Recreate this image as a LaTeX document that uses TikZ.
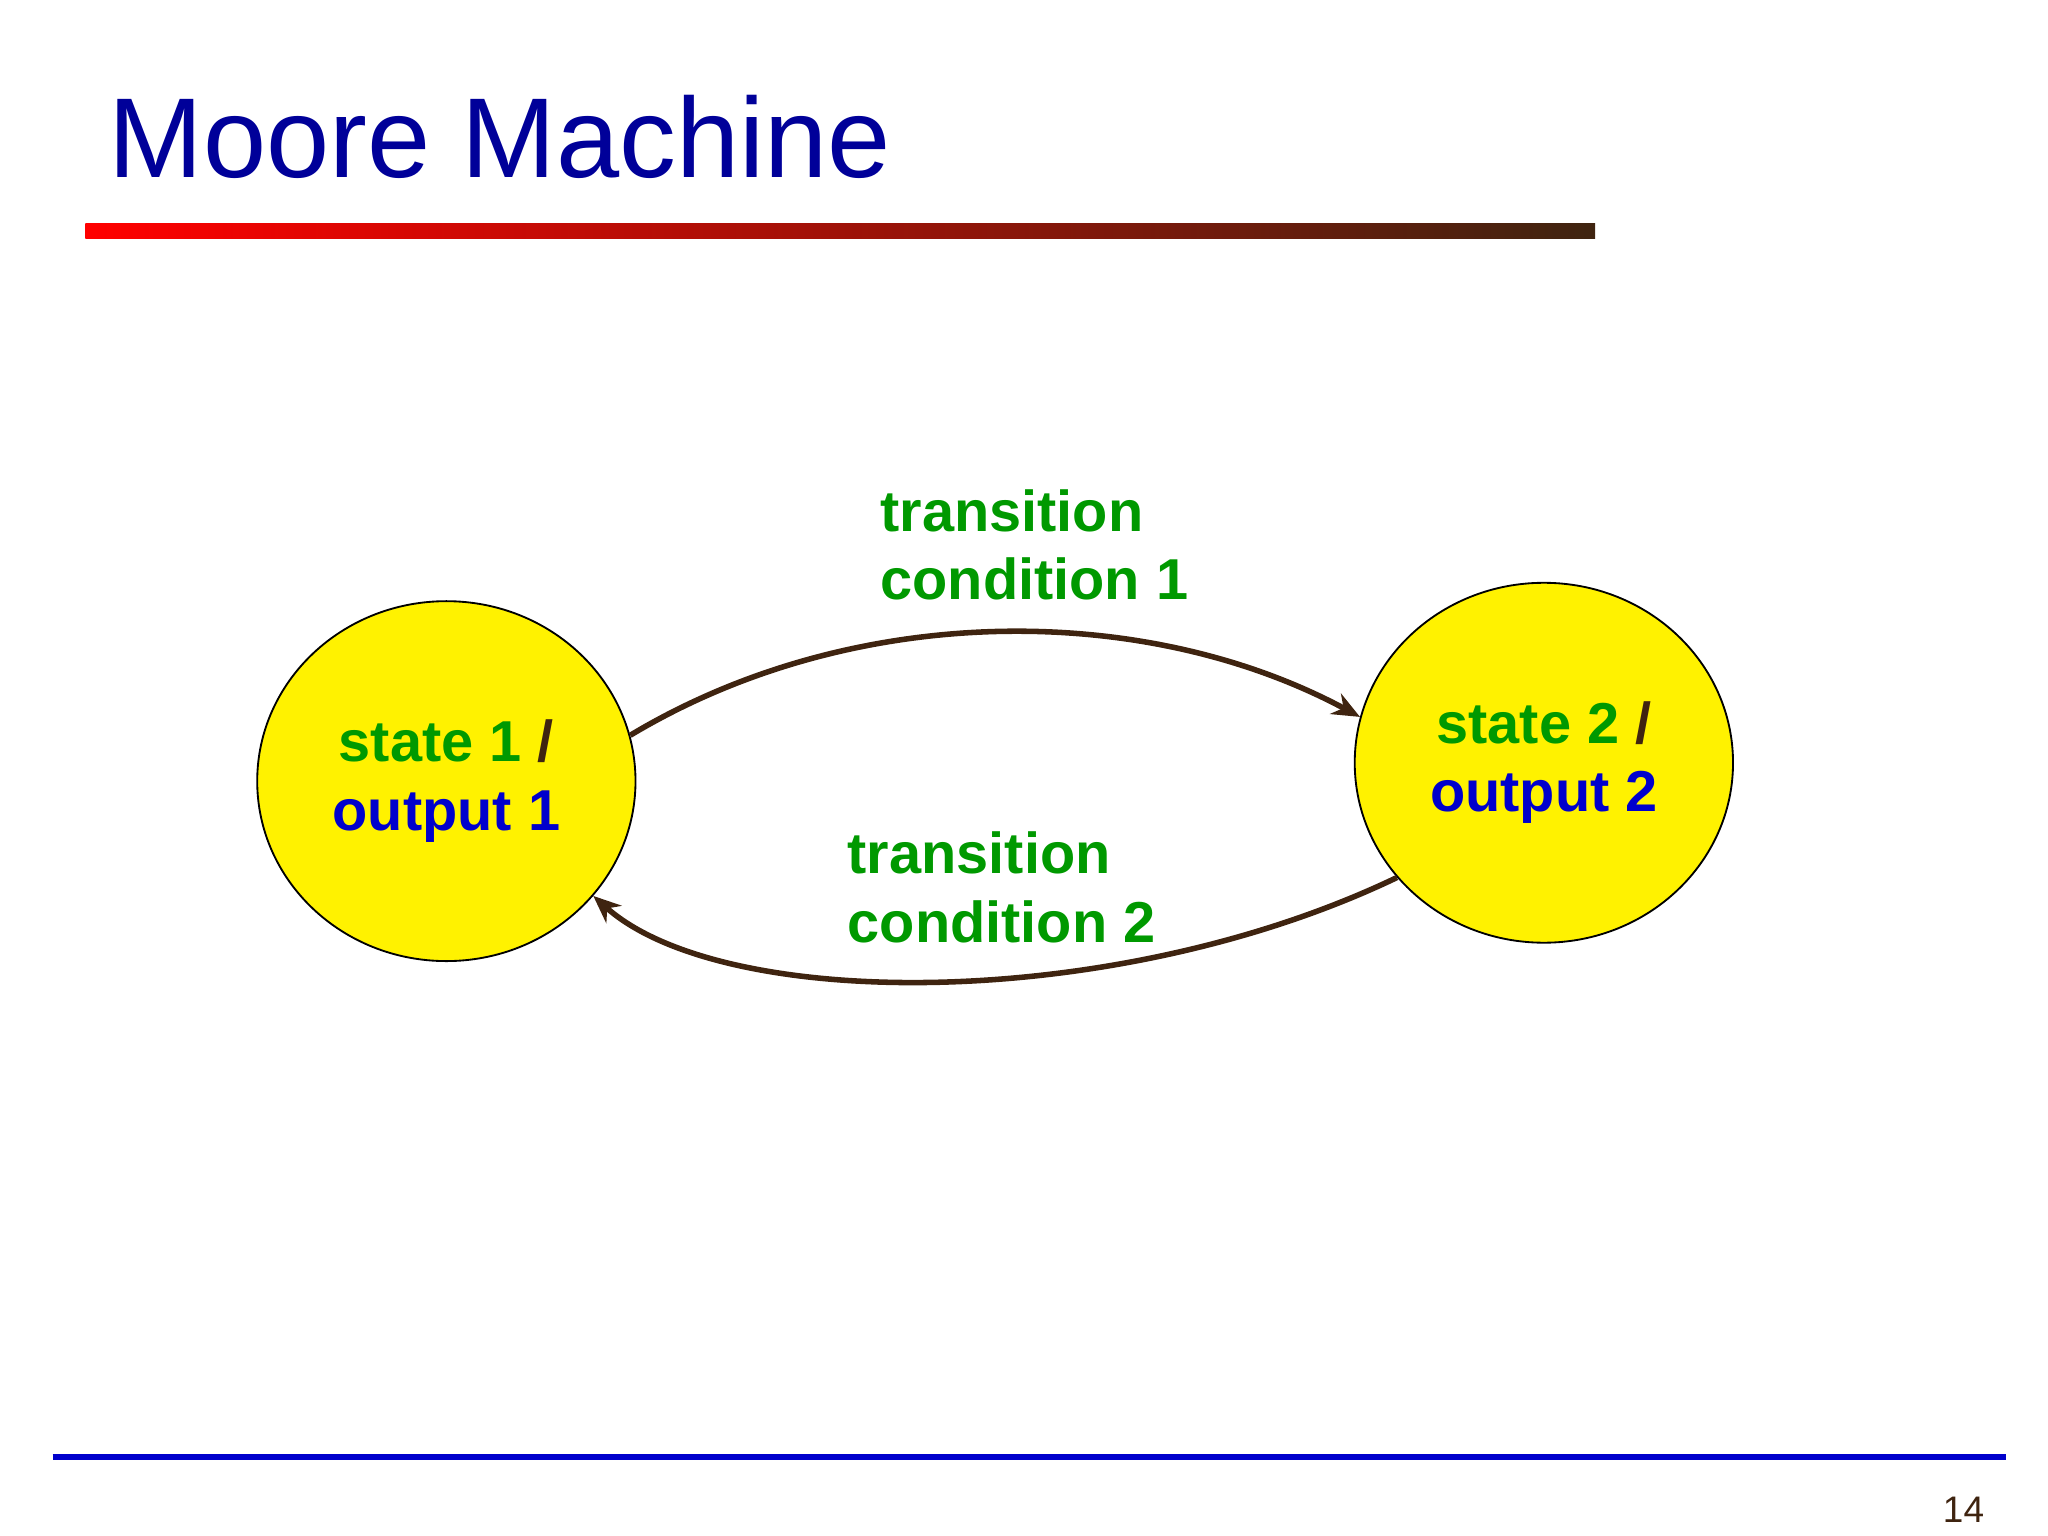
\documentclass[tikz,border=0pt]{standalone}
\usepackage{fontspec}
\setmainfont{Liberation Sans}
\usetikzlibrary{shapes.geometric,arrows.meta}
\definecolor{ttl}{HTML}{000099}
\definecolor{grn}{HTML}{009900}
\definecolor{blu}{HTML}{0000CC}
\definecolor{brn}{HTML}{3F2410}
\begin{document}
\begin{tikzpicture}[x=0.01cm,y=-0.01cm,
  st/.style={ellipse,draw=black,line width=0.4pt,fill=yellow,minimum width=2.88cm,minimum height=2.74cm,align=center,font=\fontsize{12.5}{14.8}\selectfont\bfseries},
  lbl/.style={anchor=north west,align=left,inner sep=0pt,text=grn,font=\fontsize{12.5}{14.8}\selectfont\bfseries},
  arr/.style={draw=brn,line width=1.2pt,-{Stealth[length=6pt,width=5pt]}}]
\useasboundingbox (0,0) rectangle (1560,1170);
\node[anchor=base west,inner sep=0pt,text=ttl,font=\fontsize{24.6}{28}\selectfont] (title) at (82,135) {Moore Machine};
\shade[left color=red,right color=brn] (65,170) rectangle (1215,182);
\draw[blu,line width=1.2pt] (40,1110) -- (1528,1110);
\node[anchor=base east,inner sep=0pt,text=brn,font=\fontsize{8}{10}\selectfont] (pg) at (1512,1160) {14};
\node[st] (s1) at (340,595) {\textcolor{grn}{state 1} \textcolor{brn}{/}\\\textcolor{blu}{output 1}};
\node[st] (s2) at (1176,581) {\textcolor{grn}{state 2} \textcolor{brn}{/}\\\textcolor{blu}{output 2}};
\draw[arr] (s1.14) .. controls (650,458) and (872,458) .. (s2.166);
\draw[arr] (s2.-142) .. controls (850,771) and (551,771) .. (s1.-38);
\node[lbl] (l1) at (670,372) {transition\\condition 1};
\node[lbl] (l2) at (645,633) {transition\\condition 2};
\end{tikzpicture}
\end{document}
